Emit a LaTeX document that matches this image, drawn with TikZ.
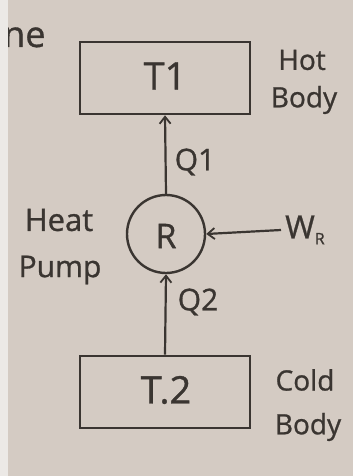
\documentclass[tikz,border=0pt]{standalone}
\usepackage{fontspec}
\setmainfont{Open Sans}
\newfontfamily\inkfont{Open Sans}[FakeBold=0.9]
\usetikzlibrary{arrows.meta}
\definecolor{paper}{RGB}{212,203,195}
\definecolor{strip}{RGB}{236,233,230}
\definecolor{ink}{RGB}{58,53,49}
\tikzset{
  body/.style={draw=ink, line width=2.6pt, minimum width=170pt, minimum height=72pt, inner sep=0pt},
  engine/.style={circle, draw=ink, line width=2.4pt, minimum size=78pt, inner sep=0pt},
  lbl/.style={text=ink, inner sep=0pt, font=\inkfont\fontsize{28}{30}\selectfont},
  flow/.style={draw=ink, line width=2.2pt, -{Straight Barb[length=7pt,width=11pt,line width=1.8pt]}},
}
\begin{document}
\begin{tikzpicture}[x=1pt,y=-1pt]
\fill[paper] (0,0) rectangle (353,476);
\fill[strip] (0,0) rectangle (8,476);
\useasboundingbox (0,0) rectangle (353,476);
\begin{scope}
\clip (8,0) rectangle (353,476);
\node[lbl, font=\inkfont\fontsize{36}{38}\selectfont, anchor=base west] (ne) at (3,47) {ne};
\end{scope}
\node[body] (t1) at (165,78) {};
\node[lbl, font=\inkfont\fontsize{38}{40}\selectfont] (t1txt) at (165,76) {T1};
\node[lbl] (hot) at (302,60) {Hot};
\node[lbl] (hotbody) at (304,100) {Body};
\node[engine] (r) at (166,234) {};
\node[lbl, font=\inkfont\fontsize{34}{36}\selectfont] (rtxt) at (166,236) {R};
\node[lbl, font=\inkfont\fontsize{31}{33}\selectfont] (heat) at (59,220) {Heat};
\node[lbl, font=\inkfont\fontsize{30}{32}\selectfont] (pump) at (60,270) {Pump};
\node[body] (t2) at (165,392) {};
\node[lbl, font=\inkfont\fontsize{38}{40}\selectfont] (t2txt) at (166,390) {T.2};
\node[lbl] (cold) at (305,380) {Cold};
\node[lbl] (coldbody) at (308,427) {Body};
\coordinate (wstart) at (281,230);
\node[lbl, font=\inkfont\fontsize{32}{34}\selectfont, anchor=west] (wr) at (285,230) {W\raisebox{-6pt}{\inkfont\fontsize{16}{17}\selectfont R}};
\node[lbl, font=\inkfont\fontsize{30}{32}\selectfont] (q1) at (195,162) {Q1};
\node[lbl, font=\inkfont\fontsize{30}{32}\selectfont] (q2) at (198,302) {Q2};
\draw[flow] (r.north) -- (t1.south);
\draw[flow] (t2.north) -- (r.south);
\draw[flow] (wstart) -- (r.east);
\end{tikzpicture}
\end{document}
